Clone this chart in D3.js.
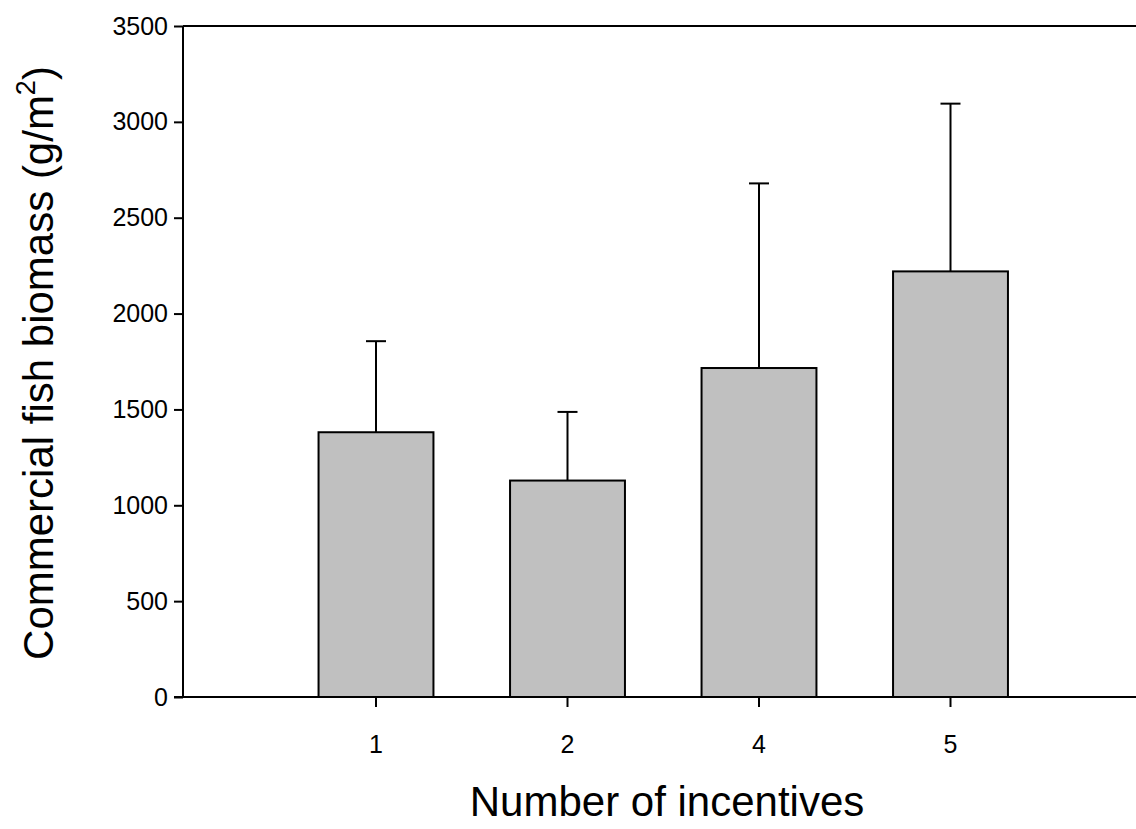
<!DOCTYPE html>
<html>
<head>
<meta charset="utf-8">
<script src="https://cdn.jsdelivr.net/npm/d3@7/dist/d3.min.js"></script>
<style>
  html, body { margin: 0; padding: 0; background: #fff; }
  svg { display: block; font-family: Arial, "Liberation Sans", sans-serif; }
</style>
</head>
<body>
<svg id="chart" width="1136" height="829"></svg>
<script>
// Commercial fish biomass by number of incentives (mean + upper error bar)
const categories = ["1", "2", "4", "5"];
const meanBiomass = [1381, 1129, 1716, 2220];
const errorBiomass = [475, 358, 963, 875];
const yTicks = [0, 500, 1000, 1500, 2000, 2500, 3000, 3500];

const svg = d3.select("#chart");
const W = 1136;
const plotLeft = 183, plotTop = 26, plotBottom = 697;
const fontStack = 'Arial, "Liberation Sans", sans-serif';

const x = d3.scaleBand()
  .domain(categories)
  .range([280.25, 1046.25])
  .paddingInner(0.4)
  .paddingOuter(0.2);

const y = d3.scaleLinear().domain([0, 3500]).range([plotBottom, plotTop]);

const data = categories.map((c, i) => ({ c, m: meanBiomass[i], e: errorBiomass[i] }));

// error bars (upper only), drawn before the bars
const eb = svg.append("g").attr("stroke", "#000").attr("stroke-width", 2);
data.forEach(d => {
  const cx = x(d.c) + x.bandwidth() / 2;
  eb.append("line").attr("x1", cx).attr("x2", cx)
    .attr("y1", y(d.m)).attr("y2", y(d.m + d.e));
  eb.append("line").attr("x1", cx - 10).attr("x2", cx + 10)
    .attr("y1", y(d.m + d.e)).attr("y2", y(d.m + d.e));
});

// bars
svg.append("g").selectAll("rect").data(data).join("rect")
  .attr("x", d => x(d.c))
  .attr("width", x.bandwidth())
  .attr("y", d => y(d.m))
  .attr("height", d => y(0) - y(d.m))
  .attr("fill", "#c0c0c0")
  .attr("stroke", "#000")
  .attr("stroke-width", 2);

// frame line along the top, running to the right edge
svg.append("line").attr("x1", plotLeft).attr("x2", W + 10)
  .attr("y1", plotTop).attr("y2", plotTop).attr("stroke", "#000").attr("stroke-width", 2);

// y axis
const yAxis = svg.append("g")
  .attr("transform", `translate(${plotLeft},0)`)
  .call(d3.axisLeft(y).tickValues(yTicks).tickSize(9).tickPadding(6).tickFormat(d3.format("d")));
yAxis.select(".domain").attr("stroke-width", 2).attr("d", `M0,${plotTop}V${plotBottom}`);
yAxis.selectAll(".tick line").attr("stroke-width", 2);
yAxis.selectAll(".tick text").attr("font-size", 25).attr("fill", "#000")
  .attr("font-family", fontStack);

// x axis
const xAxis = svg.append("g")
  .attr("transform", `translate(0,${plotBottom})`)
  .call(d3.axisBottom(x).tickSize(10).tickPadding(28));
xAxis.select(".domain").attr("stroke-width", 2).attr("d", `M${plotLeft - 9},0H${W + 10}`);
xAxis.selectAll(".tick line").attr("stroke-width", 2);
xAxis.selectAll(".tick text").attr("font-size", 25).attr("fill", "#000")
  .attr("font-family", fontStack);

// axis titles
svg.append("text")
  .attr("x", 667).attr("y", 816)
  .attr("text-anchor", "middle")
  .attr("font-size", 42)
  .text("Number of incentives");

const yt = svg.append("text")
  .attr("transform", "translate(53,363) rotate(-90)")
  .attr("text-anchor", "middle")
  .attr("font-size", 42);
yt.append("tspan").text("Commercial fish biomass (g/m");
yt.append("tspan").attr("font-size", 27).attr("dy", -18).text("2");
yt.append("tspan").attr("dy", 18).text(")");
</script>
</body>
</html>
